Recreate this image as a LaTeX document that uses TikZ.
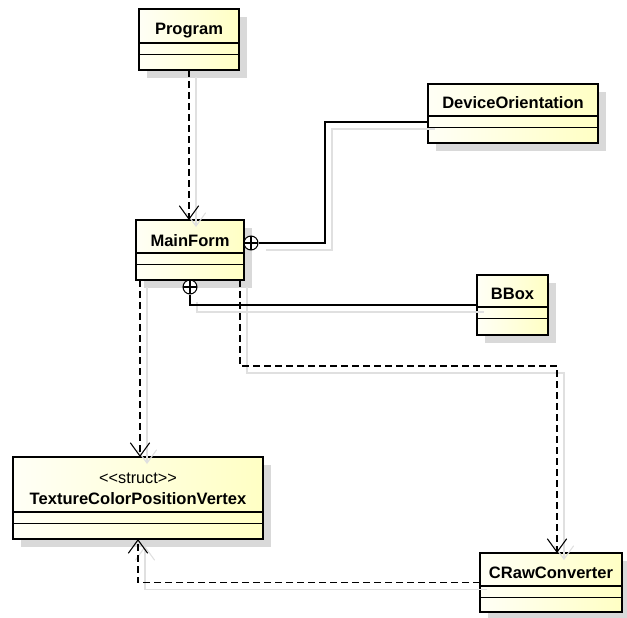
\documentclass[tikz,border=0pt]{standalone}
\usepackage{fontspec}
\setmainfont{Liberation Sans}
\usetikzlibrary{arrows.meta,calc}
\definecolor{fillL}{RGB}{255,255,246}
\definecolor{fillR}{RGB}{255,255,196}
\tikzset{
  classbox/.style={draw=black, line width=1.7pt, shade, left color=fillL, right color=fillR, rectangle, inner sep=0pt, outer sep=0pt},
  compline/.style={line width=0.8pt},
  boxshadow/.style={fill=black!15},
  classname/.style={font=\bfseries\fontsize{12.4}{14}\selectfont, anchor=base, inner sep=0pt},
  stereo/.style={font=\fontsize{12.2}{14}\selectfont, anchor=base, inner sep=0pt},
  vtip/.style={-{Straight Barb[length=10pt,width=14.5pt,line width=0.8pt]}},
  dep/.style={vtip, draw=black, dash pattern=on 5.25pt off 3pt, line width=0.8pt},
  depshadow/.style={vtip, draw=black!12, line width=0.8pt},
  nest/.style={draw=black, line width=0.8pt},
  nestshadow/.style={draw=black!12, line width=0.8pt},
  nestcirc/.style={circle, draw=black, fill=white, line width=0.8pt, minimum size=10.5pt, inner sep=0pt,
    path picture={\draw[line width=0.8pt] (path picture bounding box.north) -- (path picture bounding box.south)
      (path picture bounding box.west) -- (path picture bounding box.east);}}
}
% name, x1, y1, x2, y2, y of first compartment line
\newcommand{\umlclass}[6]{%
  \fill[boxshadow] (#2+8,#3+8) rectangle (#4+8,#5+8);
  \node[classbox, anchor=north west, minimum width={(#4-#2)*0.75pt}, minimum height={(#5-#3)*0.75pt}] (#1) at (#2,#3) {};
  \draw[compline] (#2,#6) -- (#4,#6);
  \draw[compline] (#2,#6+11.5) -- (#4,#6+11.5);
}
% connectors, drawn once as shadow and once on top
\newcommand{\allconnectors}[2]{%
  \draw[#1] (program.south) -- (program.south |- mainform.north);
  \draw[#1] (d2a) -- (d2a |- struct.north);
  \draw[#1] (d3a) |- (c3) -- (c3 |- craw.north);
  \draw[#1] (craw.west) -| (struct.south);
  \draw[#2] (n1) -- (n1 -| c5) -- (c5) -- (c5 -| devo.west);
  \draw[#2] (n2) |- (bbox.west);
}
\begin{document}
\begin{tikzpicture}[x=0.75pt,y=-0.75pt]
\useasboundingbox (0,0) rectangle (627,617);

\umlclass{program}{139}{9}{239}{70}{43}
\node[classname] (programname) at (189,34.5) {Program};

\umlclass{mainform}{136}{220}{244}{280}{253}
\node[classname] (mainformname) at (190,246) {MainForm};

\umlclass{devo}{428}{84}{598}{143}{116}
\node[classname] (devoname) at (513,108) {DeviceOrientation};

\umlclass{bbox}{477}{275}{548}{335}{307}
\node[classname] (bboxname) at (512.5,299.5) {BBox};

\umlclass{struct}{13}{457}{263}{539}{512}
\node[stereo] (structstereo) at (138,483) {<{}<struct>{}>};
\node[classname] (structname) at (138,504) {TextureColorPositionVertex};

\umlclass{craw}{480}{553}{622}{612}{586}
\node[classname] (crawname) at (551,578.5) {CRawConverter};

\node[nestcirc] (n1) at ($(mainform.east)+(7,-7)$) {};
\node[nestcirc] (n2) at ($(mainform.south)+(0,7)$) {};

\coordinate (d2a) at ($(mainform.south west)+(4,0)$);
\coordinate (d3a) at ($(mainform.south east)+(-4,0)$);
\coordinate (c3) at (557,366);
\coordinate (c5) at (325,122);

\begin{scope}[transform canvas={xshift=5.25pt,yshift=-5.25pt}]
  \allconnectors{depshadow}{nestshadow}
\end{scope}
\allconnectors{dep}{nest}
\end{tikzpicture}
\end{document}
